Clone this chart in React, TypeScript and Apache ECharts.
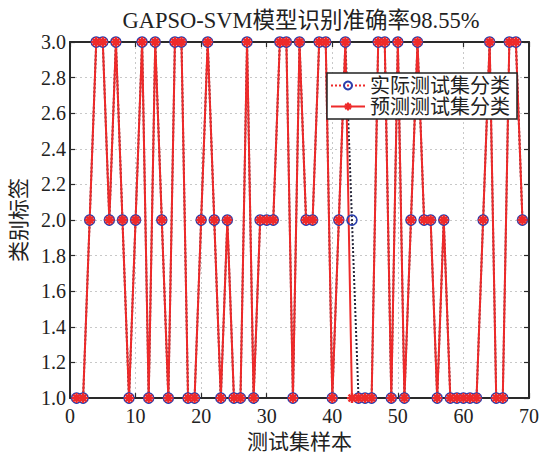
import React, { useEffect, useRef } from "react";
import * as echarts from "echarts";

const sampleIdx: number[] = Array.from({ length: 69 }, (_, i) => i + 1);

const actualLabels: number[] = [
  1, 1, 2, 3, 3, 2, 3, 2, 1, 2,
  3, 1, 3, 2, 1, 3, 3, 1, 1, 2,
  3, 2, 1, 2, 1, 1, 3, 1, 2, 2,
  2, 3, 3, 1, 3, 2, 2, 3, 3, 1,
  2, 3, 2, 1, 1, 1, 3, 3, 1, 3,
  1, 2, 3, 2, 2, 1, 2, 1, 1, 1,
  1, 1, 2, 3, 1, 1, 3, 3, 2,
];

const predictedLabels: number[] = [
  1, 1, 2, 3, 3, 2, 3, 2, 1, 2,
  3, 1, 3, 2, 1, 3, 3, 1, 1, 2,
  3, 2, 1, 2, 1, 1, 3, 1, 2, 2,
  2, 3, 3, 1, 3, 2, 2, 3, 3, 1,
  2, 3, 1, 1, 1, 1, 3, 3, 1, 3,
  1, 2, 3, 2, 2, 1, 2, 1, 1, 1,
  1, 1, 2, 3, 1, 1, 3, 3, 2,
];

const titleText = "GAPSO-SVM模型识别准确率98.55%";
const xName = "测试集样本";
const yName = "类别标签";
const seriesNames = ["实际测试集分类", "预测测试集分类"];

const FONT = "'Liberation Serif', 'Times New Roman', 'Noto Sans CJK SC', serif";
const RED = "#ee2a2a";
const BLUE = "#2b3fae";
const AXIS = "#2a2a2a";
const ASTERISK = "path://M5,0L5,10M0,5L10,5M1.6,1.6L8.4,8.4M8.4,1.6L1.6,8.4";

export default function App() {
  const ref = useRef<HTMLDivElement>(null);
  useEffect(() => {
    if (!ref.current) return;
    const chart = echarts.init(ref.current, undefined, { renderer: "svg" });
    const gridLine = { show: true, lineStyle: { color: "#c8c8c8", type: [2, 3] as any, width: 1 } };
    const baseX = {
      type: "value" as const,
      min: 0,
      max: 70,
      interval: 10,
      axisLine: { show: true, onZero: false, lineStyle: { color: AXIS, width: 2 } },
      axisTick: { show: true, inside: true, length: 5, lineStyle: { color: AXIS, width: 1.2 } },
    };
    const baseY = {
      type: "value" as const,
      min: 1,
      max: 3,
      interval: 0.2,
      axisLine: { show: true, onZero: false, lineStyle: { color: AXIS, width: 2 } },
      axisTick: { show: true, inside: true, length: 5, lineStyle: { color: AXIS, width: 1.2 } },
    };
    chart.setOption({
      animation: false,
      backgroundColor: "#ffffff",
      grid: { left: 69, right: 13, top: 42, bottom: 51, containLabel: false },
      graphic: [
        {
          type: "text",
          x: 301,
          y: 20,
          style: {
            text: titleText,
            font: `22.5px ${FONT}`,
            fill: "#222",
            textAlign: "center",
            textVerticalAlign: "middle",
          },
        },
      ],
      legend: {
        orient: "vertical",
        left: 327,
        top: 73,
        itemWidth: 34,
        itemHeight: 10,
        itemGap: 0,
        padding: [2, 7, 2, 3],
        backgroundColor: "#ffffff",
        borderColor: "#222",
        borderWidth: 1.5,
        textStyle: { fontSize: 20, fontFamily: FONT, color: "#222", lineHeight: 21 },
        data: [
          { name: seriesNames[0], lineStyle: { color: RED, type: "dotted", width: 2 } },
          { name: seriesNames[1] },
        ],
      },
      xAxis: [
        {
          ...baseX,
          position: "bottom",
          name: xName,
          nameLocation: "middle",
          nameGap: 29,
          nameTextStyle: { fontSize: 21, fontFamily: FONT, color: "#222" },
          axisLabel: { fontSize: 20, fontFamily: FONT, color: "#222", margin: 8 },
          splitLine: gridLine,
        },
        {
          ...baseX,
          position: "top",
          axisLabel: { show: false },
          splitLine: { show: false },
        },
      ],
      yAxis: [
        {
          ...baseY,
          position: "left",
          name: yName,
          nameLocation: "middle",
          nameGap: 41,
          nameTextStyle: { fontSize: 21, fontFamily: FONT, color: "#222" },
          axisLabel: {
            fontSize: 20,
            fontFamily: FONT,
            color: "#222",
            margin: 4,
            formatter: (v: number) => v.toFixed(1),
          },
          splitLine: gridLine,
        },
        {
          ...baseY,
          position: "right",
          axisLabel: { show: false },
          splitLine: { show: false },
        },
      ],
      series: [
        {
          name: seriesNames[0],
          type: "line",
          xAxisIndex: 0,
          yAxisIndex: 0,
          data: sampleIdx.map((x, i) => [x, actualLabels[i]]),
          symbol: "circle",
          symbolSize: 10,
          showAllSymbol: true,
          lineStyle: { color: "#26263a", type: "dotted", width: 2 },
          itemStyle: { color: "rgba(255,255,255,0)", borderColor: BLUE, borderWidth: 1.6 },
          emphasis: { disabled: true },
        },
        {
          name: seriesNames[1],
          type: "line",
          xAxisIndex: 0,
          yAxisIndex: 0,
          data: sampleIdx.map((x, i) => [x, predictedLabels[i]]),
          symbol: ASTERISK,
          symbolSize: 10,
          showAllSymbol: true,
          lineStyle: { color: RED, type: "solid", width: 2 },
          itemStyle: { color: RED, borderColor: RED, borderWidth: 2.4 },
          emphasis: { disabled: true },
        },
      ],
    });
    return () => chart.dispose();
  }, []);
  return <div ref={ref} style={{ width: 542, height: 457, position: "absolute", left: 0, top: 0 }} />;
}
